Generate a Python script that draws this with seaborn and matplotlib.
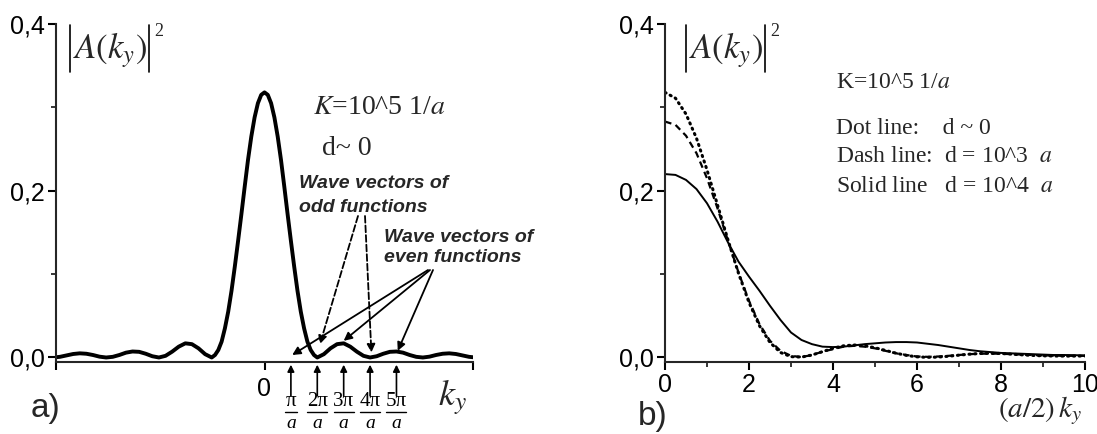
import numpy as np
import matplotlib
matplotlib.use('Agg')
import matplotlib.pyplot as plt
from matplotlib.lines import Line2D
import seaborn as sns

# ---- data ----
# panel a): |A(k_y)|^2, k_y in units of pi/a (finer sampling over the main lobe)
k_a = np.concatenate([np.arange(-8, -2.1, 0.25),
                      np.arange(-2, 2.01, 0.125),
                      np.arange(2.25, 8.01, 0.25)])
amp_a = [0.0, 0.0008, 0.0025, 0.0042, 0.005, 0.0045, 0.003, 0.001,
         0.0, 0.0008, 0.003, 0.0058, 0.0072, 0.0068, 0.0045, 0.0015,
         0.0, 0.002, 0.007, 0.013, 0.017, 0.016, 0.011, 0.004,
         0.0, 0.003, 0.009, 0.019, 0.035, 0.055, 0.080, 0.109,
         0.140, 0.172, 0.205, 0.237, 0.265, 0.288, 0.305, 0.315,
         0.318,
         0.315, 0.305, 0.288, 0.265, 0.237, 0.205, 0.172, 0.140,
         0.109, 0.080, 0.055, 0.035, 0.019, 0.009, 0.003, 0.0,
         0.004, 0.011, 0.016, 0.017, 0.013, 0.007, 0.002, 0.0,
         0.0015, 0.0045, 0.0068, 0.0072, 0.0058, 0.003, 0.0008, 0.0,
         0.001, 0.003, 0.0045, 0.005, 0.0042, 0.0025, 0.0008, 0.0]

# panel b): |A(k_y)|^2 vs (a/2) k_y for three widths d
k_b = np.arange(0, 10.01, 0.25)
dot_b = [0.318, 0.311, 0.292, 0.263, 0.225, 0.183, 0.141, 0.101, 0.066, 0.038,
         0.018, 0.006, 0.001, 0.0005, 0.003, 0.007, 0.011, 0.014, 0.015, 0.014,
         0.0117, 0.0085, 0.0052, 0.0025, 0.0008, 0.0002, 0.0005, 0.0015, 0.0028, 0.004,
         0.0048, 0.005, 0.0048, 0.004, 0.0032, 0.0025, 0.002, 0.0018, 0.0017, 0.0017,
         0.0018]
dash_b = [0.283, 0.279, 0.266, 0.245, 0.215, 0.179, 0.140, 0.102, 0.068, 0.040,
          0.020, 0.008, 0.002, 0.0005, 0.003, 0.007, 0.010, 0.013, 0.014, 0.013,
          0.011, 0.008, 0.005, 0.003, 0.0012, 0.0008, 0.0012, 0.002, 0.003, 0.004,
          0.0045, 0.0047, 0.0045, 0.004, 0.0035, 0.003, 0.0025, 0.0022, 0.002, 0.002,
          0.002]
solid_b = [0.220, 0.219, 0.213, 0.202, 0.185, 0.163, 0.138, 0.115, 0.097, 0.080,
           0.062, 0.045, 0.030, 0.021, 0.016, 0.013, 0.0125, 0.013, 0.0145, 0.016,
           0.017, 0.018, 0.0185, 0.0185, 0.018, 0.0165, 0.015, 0.013, 0.011, 0.009,
           0.0075, 0.0065, 0.0055, 0.005, 0.0045, 0.004, 0.0035, 0.003, 0.003, 0.0028,
           0.0025]

y_ticks = [0, 0.2, 0.4]
y_ticklabels = ['0,0', '0,2', '0,4']
b_xticks = [0, 2, 4, 6, 8, 10]
wave_pos = [1, 2, 3, 4, 5]
wave_numer = ['π', '2π', '3π', '4π', '5π']
legend_lines = [r'K=10^5 1/$a$', 'Dot line:    d ~ 0',
                r'Dash line:  d = 10^3  $a$', r'Solid line   d = 10^4  $a$']

# ---- style ----
sns.set_theme(style='ticks')
plt.rcParams['font.family'] = ['Liberation Sans', 'DejaVu Sans']
plt.rcParams['mathtext.fontset'] = 'stix'
plt.rcParams['axes.linewidth'] = 1.5

W, H = 1097, 434
fig = plt.figure(figsize=(W / 100, H / 100), dpi=100)
ax1 = fig.add_axes([56 / W, 1 - 362 / H, 417 / W, 338 / H])
ax2 = fig.add_axes([665 / W, 1 - 362 / H, 420 / W, 338 / H])
serif = ['Liberation Serif', 'DejaVu Serif']


def ftxt(x, y, s, **kw):
    fig.text(x / W, 1 - y / H, s, **kw)


def fline(xs, ys, **kw):
    fig.add_artist(Line2D([x / W for x in xs], [1 - y / H for y in ys],
                          transform=fig.transFigure, color='black', **kw))


# ---- panel a ----
sns.lineplot(x=k_a, y=amp_a, ax=ax1, color='black', linewidth=2.8)
ax1.set_xlim(-7.9, 7.9)
ax1.set_xticks([-7.9, 0, 7.9])
ax1.set_xticklabels(['', '0', ''])

# ---- panel b ----
sns.lineplot(x=k_b, y=solid_b, ax=ax2, color='black', linewidth=1.4)
sns.lineplot(x=k_b, y=dash_b, ax=ax2, color='black', linewidth=1.6,
             linestyle=(0, (3, 2)))
sns.lineplot(x=k_b, y=dot_b, ax=ax2, color='black', linewidth=2.2,
             linestyle=(0, (0.4, 1.5)), dash_capstyle='round')
ax2.set_xlim(0, 10)
ax2.set_xticks(b_xticks)
ax2.set_xticks([1, 3, 5, 7, 9], minor=True)

for ax in (ax1, ax2):
    ax.set_ylim(-0.0054, 0.4)
    ax.set_yticks(y_ticks)
    ax.set_yticklabels(y_ticklabels)
    ax.set_yticks([0.1, 0.3], minor=True)
    ax.set_xlabel('')
    ax.set_ylabel('')
    sns.despine(ax=ax)
    ax.tick_params(which='major', direction='out', length=6, width=1.5,
                   labelsize=18, colors='black')
    ax.tick_params(which='minor', direction='out', length=3.5, width=1.3)
    ax.tick_params(axis='y', pad=2)
ax1.tick_params(axis='x', pad=5)
ax2.tick_params(axis='x', pad=2)

# ---- arrows and labels of panel a ----
xt = ax1.get_xaxis_transform()
for k, num in zip(wave_pos, wave_numer):
    ax1.annotate('', xy=(k, -0.008), xytext=(k, -0.1), xycoords=xt,
                 arrowprops=dict(arrowstyle='-|>', color='black', lw=1.2,
                                 mutation_scale=10, shrinkA=0, shrinkB=0),
                 annotation_clip=False)
    ax1.text(k, -0.117, num, transform=xt, ha='center', va='center',
             fontsize=15, family=serif, color='black')
    half = 0.22 if len(num) == 1 else 0.38
    ax1.plot([k - half, k + half], [-0.148, -0.148], transform=xt,
             color='black', lw=1.0, clip_on=False)
    ax1.text(k, -0.181, 'a', transform=xt, ha='center', va='center',
             fontsize=14, family=serif, style='italic', color='black')

odd_arrows = [((2.1, 0.016), (358, 216)), ((4.05, 0.006), (365, 216))]
even_arrows = [((1.05, 0.003), (428, 270)), ((3.0, 0.02), (430, 270)),
               ((5.05, 0.008), (433, 270))]
for tip, start in odd_arrows:
    ax1.annotate('', xy=tip, xycoords='data', xytext=(start[0], H - start[1]),
                 textcoords='figure pixels',
                 arrowprops=dict(arrowstyle='-|>', color='black', lw=1.3,
                                 linestyle='--', mutation_scale=12,
                                 shrinkA=0, shrinkB=0))
for tip, start in even_arrows:
    ax1.annotate('', xy=tip, xycoords='data', xytext=(start[0], H - start[1]),
                 textcoords='figure pixels',
                 arrowprops=dict(arrowstyle='-|>', color='black', lw=1.3,
                                 mutation_scale=12, shrinkA=0, shrinkB=0))

wave_kw = dict(family='Liberation Sans', weight='bold', style='italic',
               size=14, ha='left', va='center')
ftxt(299, 183, 'Wave vectors of', **wave_kw)
ftxt(299, 207, 'odd functions', **wave_kw)
ftxt(384, 237, 'Wave vectors of', **wave_kw)
ftxt(384, 258, 'even functions', **wave_kw)

# |A(k_y)|^2 labels: bars, body and superscript
for x0 in (70, 686):
    fline([x0, x0], [25, 72], lw=1.2)
    fline([x0 + 79, x0 + 79], [25, 72], lw=1.2)
    ftxt(x0 + 40, 50, r'$A(k_y)$', size=25, ha='center', va='center')
    ftxt(x0 + 84, 32, '2', family=serif, size=13, ha='left', va='center')

ftxt(313, 107, r'$K$=10^5 1/$a$', family=serif, size=20, ha='left', va='center')
ftxt(347, 148, 'd~ 0', family=serif, size=20, ha='center', va='center')
ftxt(452, 397, r'$k_y$', size=26, ha='center', va='center')
ftxt(45, 408, 'a)', size=24, ha='center', va='center')
ftxt(653, 417, 'b)', size=24, ha='center', va='center')
ftxt(1082, 411, r'$(a/2)\,k_y$', size=21, ha='right', va='center')

for y, s in zip([83, 128, 157, 187], legend_lines):
    ftxt(836, y, s, family=serif, size=17, ha='left', va='center')

fig.savefig('out.png', dpi=100)
